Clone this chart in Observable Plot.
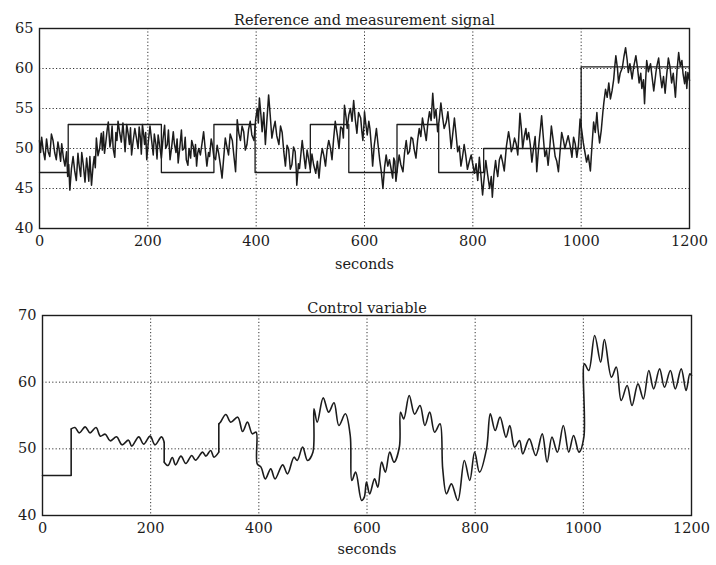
<!DOCTYPE html>
<html><head><meta charset="utf-8">
<script src="https://cdn.jsdelivr.net/npm/d3@7"></script>
<script src="https://cdn.jsdelivr.net/npm/@observablehq/plot@0.6"></script>
<style>
body{margin:0;background:#fff;}
#c{width:716px;}
#c svg{display:block;}
</style></head><body><div id="c"></div>
<script>
const xTicks = [0,200,400,600,800,1000,1200];
const yTicksTop = [40,45,50,55,60,65];
const yTicksBottom = [40,50,60,70];
const titleTop = "Reference and measurement signal";
const titleBottom = "Control variable";
const xLabel = "seconds";

// reference (setpoint) signal, step changes
const refT = [0,53,53,225,225,322,322,398,398,500,500,571,571,660,660,737,737,820,820,1000,1000,1200];
const refV = [47,47,53,53,47,47,53,53,47,47,53,53,47,47,53,53,47,47,50,50,60.2,60.2];

const measurement = [
[0,51.0],[2,49.5],[4,51.4],[7,49.7],[10,48.6],[13,51.2],[16,49.6],[19,49.0],[22,51.8],[25,51.0],[28,49.5],[31,48.6],[34,50.8],[36,50.0],[39,48.4],[41,50.6],[44,48.9],[47,47.8],[50,49.6],[52,46.5],[54,48.0],[56,44.8],[59,47.5],[62,49.0],[65,47.2],[68,46.0],[71,49.4],[73,48.0],[76,46.5],[78,49.5],[81,47.9],[84,45.8],[87,48.8],[89,47.5],[91,45.9],[93,49.0],[96,45.4],[99,47.9],
[101,49.0],[103,47.6],[105,51.3],[108,49.1],[111,50.0],[114,51.9],[116,49.8],[118,52.1],[120,49.4],[122,50.5],[125,52.4],[127,53.3],[130,50.2],[132,51.0],[134,52.8],[136,50.0],[139,48.9],[141,52.0],[143,51.0],[145,53.4],[148,52.0],[151,50.8],[154,53.2],[156,51.5],[158,49.6],[161,53.0],[164,51.7],[166,50.5],[168,52.6],[170,49.2],[173,51.0],[176,52.5],[179,51.3],[182,50.0],[184,52.7],[186,51.5],[188,49.3],[190,53.0],[192,51.9],[194,50.5],[196,52.0],[198,48.6],
[201,50.9],[204,52.8],[207,51.0],[210,49.2],[212,51.8],[215,50.5],[217,48.7],[219,51.7],[222,50.3],[225,48.8],[228,51.2],[231,52.9],[233,50.0],[236,50.5],[238,52.3],[241,48.6],[244,50.2],[247,52.1],[249,50.6],[252,49.5],[254,51.2],[256,48.2],[259,50.1],[262,52.3],[264,49.8],[267,50.0],[269,51.4],[271,48.6],[274,47.9],[276,50.0],[279,48.8],[281,51.0],[284,50.2],[286,49.0],[288,50.5],[290,47.8],[292,49.4],[294,50.0],[297,49.2],
[300,50.6],[303,52.1],[306,49.9],[309,47.8],[312,49.5],[314,49.0],[317,51.2],[319,50.5],[322,48.9],[325,48.6],[328,50.4],[331,49.3],[334,47.9],[337,46.3],[340,48.8],[343,51.3],[346,50.2],[349,49.2],[352,51.8],[356,51.0],[359,49.0],[362,47.1],[364,50.5],[365,53.6],[368,51.9],[371,51.0],[374,52.8],[377,52.1],[380,49.8],[383,50.5],[386,52.4],[389,53.4],[392,51.7],[396,51.0],[399,53.6],
[402,55.0],[404,53.2],[406,56.3],[409,54.0],[411,52.1],[414,54.5],[417,50.5],[420,53.7],[423,56.7],[426,54.1],[429,51.3],[432,52.5],[435,53.4],[438,51.6],[442,50.5],[445,52.8],[448,52.0],[451,49.6],[454,47.8],[457,50.4],[460,49.9],[463,47.4],[466,48.0],[469,50.2],[472,49.6],[474,47.3],[475,45.4],[478,48.1],[480,47.5],[483,49.6],[485,51.0],[488,49.2],[491,47.5],[494,49.8],[497,48.6],
[500,47.4],[503,49.3],[506,48.0],[510,46.9],[513,48.4],[516,46.3],[519,48.7],[522,50.0],[525,49.1],[528,47.8],[531,49.9],[534,51.0],[537,50.1],[540,48.6],[543,51.2],[546,53.4],[550,51.6],[553,50.0],[556,52.7],[559,52.5],[561,51.3],[563,55.4],[566,53.9],[568,52.5],[571,54.2],[574,55.0],[577,53.4],[580,56.0],[583,53.6],[586,51.9],[589,54.5],[593,53.8],[595,52.2],[597,51.0],[599,53.0],
[600,54.6],[602,53.3],[605,51.7],[608,53.4],[610,52.5],[613,50.0],[615,47.8],[618,50.4],[622,52.5],[625,50.5],[628,48.6],[631,47.1],[634,45.0],[637,47.6],[640,49.2],[643,47.8],[646,48.6],[649,47.5],[652,46.3],[654,48.8],[656,48.4],[658,45.9],[661,47.7],[664,49.2],[667,48.0],[671,47.1],[674,49.5],[677,51.0],[680,49.3],[683,49.6],[686,51.4],[689,51.2],[692,49.8],[695,48.8],[698,51.0],
[701,52.5],[704,51.5],[707,53.8],[710,52.6],[714,51.0],[717,53.2],[720,54.6],[723,53.5],[726,56.9],[728,55.0],[729,53.8],[732,54.9],[735,52.1],[738,53.6],[741,55.7],[744,54.0],[747,52.5],[751,53.3],[754,54.6],[757,52.4],[760,50.0],[763,51.9],[766,53.8],[769,51.8],[772,49.6],[775,50.3],[778,47.8],[781,49.0],[784,50.5],[787,49.1],[790,47.4],[794,48.5],[797,49.2],
[800,48.0],[803,46.9],[806,48.1],[809,46.0],[812,48.9],[815,46.6],[818,44.2],[821,46.4],[824,48.5],[827,46.9],[831,45.0],[834,46.5],[836,43.9],[839,46.8],[842,48.5],[844,47.3],[846,46.5],[849,48.6],[852,49.2],[855,48.3],[858,47.2],[862,50.3],[866,52.1],[869,50.8],[871,49.6],[874,50.2],[877,51.3],[880,50.6],[883,49.2],[885,51.7],[887,54.4],[890,52.2],[892,50.0],[895,51.5],[898,52.5],
[900,51.1],[903,52.0],[906,50.5],[909,48.3],[912,50.0],[915,51.5],[917,49.0],[918,47.1],[922,50.6],[925,52.6],[927,54.1],[930,51.5],[933,49.0],[936,49.8],[939,47.9],[942,50.1],[945,52.8],[948,51.2],[952,49.0],[955,48.4],[958,47.1],[961,49.6],[964,52.0],[967,51.1],[970,50.0],[973,50.8],[976,51.6],[980,50.2],[983,48.9],[986,51.4],[989,50.6],[992,48.9],[995,50.4],[998,53.7],
[1001,52.3],[1004,50.7],[1007,49.5],[1010,48.3],[1013,49.2],[1017,47.2],[1020,50.4],[1023,53.3],[1026,52.0],[1029,54.5],[1031,52.5],[1034,50.7],[1037,52.2],[1040,54.5],[1042,55.8],[1045,57.4],[1048,56.4],[1051,58.2],[1054,56.2],[1057,57.2],[1060,58.6],[1062,60.2],[1064,61.6],[1067,60.0],[1069,58.2],[1072,59.4],[1076,60.1],[1079,61.5],[1082,62.6],[1085,61.0],[1087,59.5],[1090,60.6],[1094,58.7],[1097,60.2],
[1101,61.6],[1104,60.1],[1107,58.2],[1110,59.4],[1112,57.5],[1115,58.6],[1117,55.6],[1119,58.5],[1121,61.0],[1124,59.6],[1128,60.6],[1131,58.9],[1134,57.2],[1138,59.5],[1140,60.4],[1143,61.3],[1146,59.2],[1149,57.6],[1152,59.0],[1155,56.9],[1158,59.3],[1161,61.3],[1164,60.2],[1167,58.2],[1170,59.4],[1174,56.4],[1177,59.8],[1180,62.0],[1183,60.3],[1186,61.0],[1188,59.4],[1191,58.1],[1193,59.6],[1195,57.5],[1197,59.5],[1200,58.5]
];

// control variable (repeated time = step jump)
const ctrlT = [0,53,53,60,68,79,88,99,107,116,125,137,147,159,165,178,187,199,208,220,225,225,232,240,246,256,265,276,283,296,302,311,317,326,326,329,339,348,361,370,379,388,395,397,404,412,422,430,444,453,465,471,481,490,500,502,508,519,529,539,548,560,569,572,579,590,595,599,605,614,620,627,634,642,650,660,662,668,678,688,698,707,716,725,735,740,747,756,768,780,790,799,808,821,828,837,846,857,864,873,882,888,900,912,924,933,942,952,963,973,982,992,1001,1002,1010,1021,1032,1039,1052,1061,1070,1081,1090,1101,1111,1121,1130,1141,1150,1161,1170,1181,1190,1197,1200];
const ctrlV = [46,46,53.0,53.2,52.4,53.3,52.4,53.2,51.9,52.2,51.2,51.8,50.6,51.3,50.4,51.8,50.7,51.9,50.6,51.8,51.0,48.0,47.5,48.7,47.6,48.9,47.8,49.0,48.3,49.5,48.9,49.75,48.75,49.5,53.75,54.0,55.15,54.0,54.75,52.6,54.0,52.25,52.5,47.75,47.25,45.5,47.0,45.5,47.6,46.25,48.75,48.25,50.25,48.25,49.5,56.0,54.0,57.65,55.5,56.9,53.5,55.25,52.0,45.25,46.5,42.25,42.75,45.0,43.25,45.5,44.25,48.0,46.5,49.5,48.0,50.35,55.5,54.5,58.0,55.2,56.5,53.5,55.5,52.5,53.75,47.0,43.25,44.75,42.25,48.25,45.25,49.5,46.5,50.0,55.25,52.75,54.75,51.75,53.5,50.25,51.25,49.25,51.5,49.0,52.25,48.0,51.75,49.5,53.5,49.5,52.0,49.5,51.75,62.75,61.75,67.0,63.0,66.4,60.75,62.25,57.25,59.5,56.5,59.75,57.5,61.75,59.0,62.0,59.25,61.75,59.0,62.0,58.75,61.25,61.0];

const refData = refT.map((t,i)=>({t, v: refV[i]}));
const measData = measurement.map(([t,v])=>({t, v}));
// split control variable into smooth segments at repeated times; joins become jumps
let seg = 0;
const ctrlData = [], ctrlJumps = [];
ctrlT.forEach((t,i)=>{
  if (i > 0 && t === ctrlT[i-1]) { seg++; ctrlJumps.push({t, v1: ctrlV[i-1], v2: ctrlV[i]}); }
  ctrlData.push({t, v: ctrlV[i], seg});
});

const FONT = "DejaVu Serif, serif";
const INK = "#1c1c1c";

function panel({height, mt, mb, ml, mr, yDomain, yTicks, title, series, titleDy, labelDy}) {
  const gridY = yTicks.slice(1, -1);
  const gridX = xTicks.slice(1, -1);
  return Plot.plot({
    width: 716, height,
    marginTop: mt, marginBottom: mb, marginLeft: ml, marginRight: mr,
    style: {fontFamily: FONT, fontSize: "14.5px", color: INK, background: "white"},
    x: {domain: [0, 1200], ticks: xTicks, tickFormat: d3.format("d"), label: null, tickSize: 0, tickPadding: 7},
    y: {domain: yDomain, ticks: yTicks, tickFormat: d3.format("d"), label: null, tickSize: 0, tickPadding: 6},
    marks: [
      Plot.ruleX(gridX, {stroke: "#333", strokeDasharray: "1.2,2.2", strokeWidth: 1}),
      Plot.ruleY(gridY, {stroke: "#333", strokeDasharray: "1.2,2.2", strokeWidth: 1}),
      ...series,
      Plot.frame({stroke: INK, strokeWidth: 1.4}),
      Plot.text([title], {frameAnchor: "top", dy: titleDy, lineAnchor: "bottom", fontSize: 14.5, fill: INK}),
      Plot.text([xLabel], {frameAnchor: "bottom", dy: labelDy, lineAnchor: "middle", fontSize: 14.5, fill: INK})
    ]
  });
}

const topPanel = panel({
  height: 285, mt: 28, mb: 57, ml: 39, mr: 27,
  yDomain: [40, 65], yTicks: yTicksTop, title: titleTop, titleDy: -4, labelDy: 36,
  series: [
    Plot.line(measData, {x: "t", y: "v", stroke: INK, strokeWidth: 1.5}),
    Plot.line(refData, {x: "t", y: "v", stroke: INK, strokeWidth: 1.3})
  ]
});
const bottomPanel = panel({
  height: 280, mt: 30, mb: 50, ml: 42, mr: 25,
  yDomain: [40, 70], yTicks: yTicksBottom, title: titleBottom, titleDy: -3, labelDy: 34,
  series: [
    Plot.line(ctrlData, {x: "t", y: "v", z: "seg", stroke: INK, strokeWidth: 1.6, curve: "catmull-rom"}),
    Plot.link(ctrlJumps, {x1: "t", x2: "t", y1: "v1", y2: "v2", stroke: INK, strokeWidth: 1.6})
  ]
});
document.getElementById("c").append(topPanel, bottomPanel);
</script>
</body></html>
